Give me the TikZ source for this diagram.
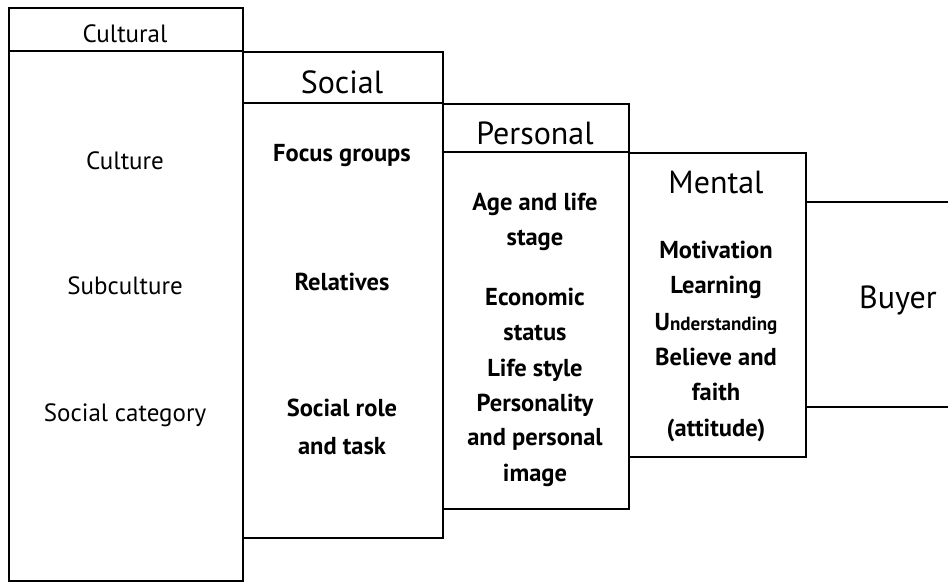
\documentclass[tikz,border=0pt]{standalone}
\usepackage{fontspec}
\setmainfont{PT Sans}
\begin{document}
\begin{tikzpicture}[x=1pt,y=-1pt,
  panel/.style={draw, line width=1.6pt, inner sep=0pt, anchor=north west},
  rule/.style={line width=1.6pt},
  plain/.style={anchor=base, inner sep=0pt, font=\fontsize{25}{30}\selectfont},
  head/.style={anchor=base, inner sep=0pt, font=\fontsize{32}{38}\selectfont},
  item/.style={anchor=base, inner sep=0pt, font=\fontsize{24.5}{29}\selectfont\bfseries}]
\useasboundingbox (0,0) rectangle (948,582);
% panels
\node[panel, minimum width=234pt, minimum height=573pt] (cultural) at (8,7) {};
\node[panel, minimum width=200pt, minimum height=486pt] (social) at (242,51) {};
\node[panel, minimum width=186pt, minimum height=405pt] (personal) at (442,103) {};
\node[panel, minimum width=177pt, minimum height=304pt] (mental) at (628,152) {};
% header rules
\draw[rule] (cultural.west |- 0,51) -- (cultural.east |- 0,51);
\draw[rule] (social.west |- 0,103) -- (social.east |- 0,103);
\draw[rule] (personal.west |- 0,152) -- (personal.east |- 0,152);
% buyer
\coordinate (bt) at (948,202);
\coordinate (bb) at (948,407);
\draw[rule] (mental.east |- bt) -- (bt);
\draw[rule] (mental.east |- bb) -- (bb);
% Cultural
\node[plain] (tcult) at (125,42) {Cultural};
\node[plain] (culture) at (125,169) {Culture};
\node[plain] (subculture) at (125,294) {Subculture};
\node[plain] (socat) at (125,421) {Social category};
% Social
\node[head] (tsoc) at (342,93) {Social};
\node[item] (focus) at (342,161) {Focus groups};
\node[item] (relatives) at (342,290) {Relatives};
\node[item] (role1) at (342,416) {Social role};
\node[item] (role2) at (342,454) {and task};
% Personal
\node[head] (tper) at (535,144) {Personal};
\foreach \t/\yy [count=\i] in {Age and life/210, stage/245, Economic/305, status/340, Life style/376, Personality/411, and personal/445, image/481}
  \node[item] (per\i) at (535,\yy) {\t};
% Mental
\node[head] (tmen) at (716,193) {Mental};
\node[item] (men1) at (716,258) {Motivation};
\node[item] (men2) at (716,293) {Learning};
\node[item] (men3) at (716,330) {U{\fontsize{19}{23}\selectfont nderstanding}};
\node[item] (men4) at (716,365) {Believe and};
\node[item] (men5) at (716,400) {faith};
\node[item] (men6) at (716,436) {(attitude)};
% Buyer
\node[head] (buyer) at (898,308) {Buyer};
\end{tikzpicture}
\end{document}
